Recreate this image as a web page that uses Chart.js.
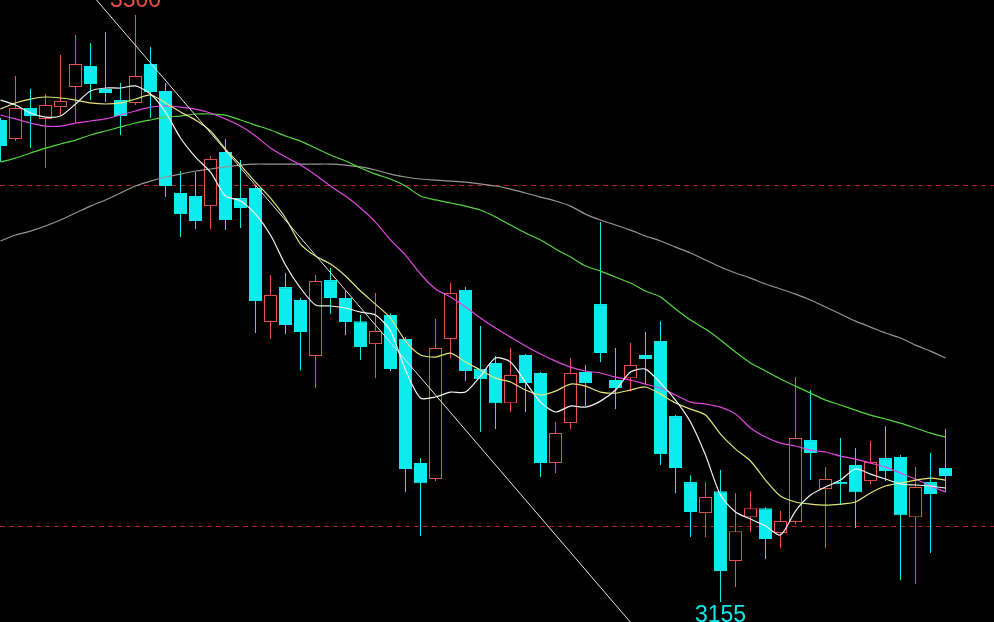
<!DOCTYPE html>
<html>
<head>
<meta charset="utf-8">
<script src="https://cdn.jsdelivr.net/npm/chart.js@4.4.1/dist/chart.umd.min.js"></script>
<style>
  html, body { margin: 0; padding: 0; background: #000; overflow: hidden; }
  #wrap { width: 994px; height: 622px; }
</style>
</head>
<body>
<div id="wrap"><canvas id="kline" width="994" height="622"></canvas></div>
<script>
// daily candles, oldest first
const opens = [3438.3, 3427.1, 3445.3, 3438.9, 3445.9, 3457.7, 3470.0, 3456.5, 3450.0, 3448.3,
  3471.2, 3455.3, 3395.4, 3393.6, 3387.7, 3419.5, 3392.4, 3398.3, 3319.6, 3340.1,
  3332.5, 3299.6, 3344.2, 3333.7, 3320.1, 3306.6, 3323.7, 3309.6, 3236.7, 3227.3,
  3309.6, 3338.4, 3291.9, 3295.5, 3271.9, 3300.2, 3289.6, 3236.7, 3260.2, 3290.2,
  3330.1, 3285.5, 3286.6, 3300.2, 3308.4, 3264.3, 3225.5, 3207.3, 3220.2, 3179.1,
  3204.9, 3210.2, 3195.6, 3202.0, 3250.2, 3221.4, 3225.5, 3235.5, 3226.1, 3239.6,
  3240.2, 3204.9, 3225.5, 3233.8];
const highs = [3439.5, 3464.1, 3456.5, 3453.6, 3476.5, 3488.2, 3483.5, 3490.0, 3460.0, 3500.0,
  3481.2, 3460.0, 3408.3, 3407.7, 3417.1, 3427.1, 3414.8, 3399.5, 3347.2, 3348.4,
  3333.7, 3347.2, 3351.3, 3337.8, 3323.7, 3336.6, 3324.8, 3310.7, 3239.6, 3321.3,
  3342.5, 3340.1, 3317.2, 3299.6, 3304.3, 3300.8, 3290.2, 3260.8, 3298.4, 3294.3,
  3378.3, 3304.3, 3307.2, 3313.7, 3320.1, 3264.9, 3229.6, 3225.5, 3232.6, 3219.0,
  3220.2, 3210.8, 3208.5, 3287.2, 3279.6, 3234.4, 3251.4, 3245.5, 3249.6, 3258.4,
  3241.4, 3234.4, 3242.6, 3256.7];
const lows = [3413.6, 3425.9, 3421.8, 3410.1, 3441.2, 3436.5, 3450.0, 3448.9, 3429.5, 3447.1,
  3439.5, 3393.0, 3369.5, 3374.2, 3374.2, 3373.6, 3374.8, 3313.1, 3309.6, 3312.5,
  3291.3, 3280.8, 3324.3, 3311.9, 3297.2, 3286.6, 3290.8, 3219.6, 3193.8, 3226.1,
  3298.4, 3284.9, 3254.9, 3256.7, 3266.7, 3266.7, 3228.5, 3230.8, 3256.7, 3270.2,
  3296.0, 3268.4, 3279.0, 3283.1, 3235.5, 3219.0, 3193.2, 3193.2, 3155.0, 3163.8,
  3196.1, 3180.3, 3186.7, 3200.8, 3226.7, 3186.7, 3212.0, 3198.5, 3224.3, 3226.1,
  3167.9, 3165.6, 3183.8, 3219.6];
const closes = [3423.0, 3445.3, 3440.6, 3447.1, 3449.4, 3471.2, 3459.4, 3454.1, 3440.6, 3464.1,
  3454.7, 3399.5, 3383.0, 3378.9, 3415.4, 3379.5, 3386.6, 3331.9, 3335.4, 3317.8,
  3313.7, 3343.7, 3333.7, 3319.6, 3304.9, 3314.3, 3291.9, 3233.2, 3224.9, 3304.3,
  3336.6, 3290.8, 3286.1, 3271.9, 3288.4, 3283.7, 3236.7, 3254.3, 3289.6, 3283.7,
  3301.3, 3280.8, 3294.3, 3297.8, 3242.0, 3233.8, 3207.9, 3216.7, 3173.2, 3196.7,
  3210.2, 3192.0, 3202.6, 3251.4, 3242.6, 3227.3, 3224.3, 3219.6, 3237.3, 3232.0,
  3206.1, 3222.6, 3218.5, 3229.1];

// moving averages as shown on the chart (white, yellow, magenta, green, grey)
const ma5 = [3450.0, 3447.1, 3442.4, 3440.0, 3440.6, 3447.7, 3455.3, 3457.1, 3457.1, 3458.3,
  3453.6, 3443.0, 3427.7, 3416.5, 3407.7, 3393.6, 3390.7, 3383.0, 3370.7, 3353.1,
  3339.5, 3329.6, 3329.0, 3327.8, 3325.4, 3323.7, 3314.3, 3291.4, 3274.9, 3275.5,
  3278.4, 3278.4, 3287.8, 3298.4, 3296.1, 3284.3, 3272.5, 3266.7, 3270.2, 3269.6,
  3273.1, 3279.6, 3290.2, 3291.9, 3283.7, 3273.7, 3260.8, 3241.4, 3217.9, 3207.9,
  3203.8, 3199.7, 3194.4, 3208.5, 3217.9, 3222.6, 3226.7, 3233.2, 3230.2, 3227.3,
  3224.4, 3223.8, 3223.2, 3222.0];
const ma10 = [3444.7, 3448.3, 3450.6, 3451.8, 3451.2, 3450.0, 3448.3, 3447.7, 3448.3, 3450.6,
  3453.0, 3448.3, 3443.0, 3438.3, 3431.8, 3421.2, 3411.8, 3401.8, 3392.4, 3380.7,
  3365.4, 3358.3, 3353.6, 3346.6, 3337.8, 3330.1, 3321.9, 3308.4, 3300.2, 3299.0,
  3301.3, 3296.1, 3291.4, 3286.6, 3284.3, 3279.6, 3276.7, 3279.0, 3283.1, 3281.9,
  3278.4, 3277.8, 3279.6, 3281.4, 3277.2, 3272.0, 3268.4, 3264.9, 3253.7, 3244.9,
  3237.9, 3226.7, 3217.3, 3213.8, 3212.6, 3212.0, 3212.6, 3213.8, 3219.1, 3223.2,
  3224.9, 3226.7, 3227.9, 3226.7];
const ma20 = [3441.2, 3438.9, 3436.5, 3434.7, 3434.7, 3436.5, 3437.7, 3438.9, 3441.2, 3443.6,
  3445.9, 3446.5, 3445.9, 3444.7, 3442.4, 3438.9, 3434.7, 3428.9, 3421.8, 3416.5,
  3411.8, 3406.0, 3399.5, 3393.6, 3386.6, 3378.3, 3367.8, 3358.9, 3347.8, 3339.0,
  3334.3, 3328.4, 3321.9, 3316.0, 3310.7, 3305.5, 3300.8, 3296.6, 3293.1, 3290.8,
  3289.6, 3287.2, 3285.5, 3283.1, 3280.8, 3276.7, 3272.5, 3271.4, 3269.6, 3265.5,
  3257.3, 3252.0, 3248.4, 3246.7, 3244.3, 3243.2, 3240.8, 3239.0, 3236.7, 3234.3,
  3230.8, 3227.3, 3223.2, 3219.7];
const ma60 = [3413.6, 3415.9, 3418.9, 3421.8, 3424.2, 3426.5, 3429.5, 3431.8, 3434.2, 3436.5,
  3438.3, 3440.0, 3440.6, 3441.8, 3441.8, 3441.2, 3438.3, 3435.3, 3432.4, 3428.9,
  3425.9, 3421.8, 3417.7, 3414.2, 3410.1, 3406.5, 3403.6, 3399.5, 3393.6, 3391.3,
  3389.5, 3387.7, 3385.4, 3381.3, 3376.6, 3371.9, 3367.8, 3362.5, 3357.8, 3352.5,
  3349.5, 3346.0, 3342.5, 3337.8, 3334.3, 3327.2, 3320.7, 3315.4, 3309.0, 3301.9,
  3295.5, 3290.8, 3286.1, 3281.9, 3277.8, 3273.7, 3270.8, 3267.8, 3264.9, 3262.6,
  3260.2, 3257.3, 3254.3, 3252.0];
const ma120 = [3367.2, 3370.7, 3373.0, 3376.0, 3379.5, 3383.6, 3387.7, 3391.3, 3395.4, 3399.5,
  3402.4, 3404.8, 3406.5, 3408.3, 3409.5, 3410.7, 3411.8, 3412.4, 3412.4, 3412.4,
  3412.4, 3412.4, 3412.4, 3411.8, 3410.7, 3408.9, 3406.5, 3404.8, 3403.6, 3403.0,
  3402.4, 3401.8, 3400.7, 3399.5, 3397.7, 3395.4, 3393.0, 3390.7, 3387.7, 3383.0,
  3379.5, 3376.6, 3373.6, 3370.1, 3367.2, 3363.6, 3360.1, 3356.0, 3351.9, 3348.4,
  3345.4, 3341.9, 3339.0, 3336.0, 3332.5, 3328.4, 3324.3, 3320.1, 3316.6, 3313.1,
  3310.2, 3306.0, 3302.5, 3298.4];

// dashed price levels and the hand drawn trend line (candle index, price)
const levels = [3200, 3400];
const trendFrom = [5, 3523.2];
const trendTo = [44, 3122.6];

const UP = '#e8524a';
const DOWN = '#0cecec';
const LEVEL = '#b02020';

const idx = opens.map((_, i) => i);
const isUp = i => closes[i] >= opens[i];

const maLine = (values, color) => ({
  type: 'line',
  data: values.map((v, i) => ({ x: i, y: v })),
  borderColor: color,
  borderWidth: 1.2,
  pointRadius: 0,
  tension: 0.25,
  order: 1
});

// dashed horizontal price levels, behind the candles
const levelLines = {
  id: 'levelLines',
  beforeDatasetsDraw(chart) {
    const { ctx, chartArea, scales: { y } } = chart;
    ctx.save();
    ctx.strokeStyle = LEVEL;
    ctx.lineWidth = 1;
    ctx.setLineDash([5, 4]);
    levels.forEach(v => {
      const py = Math.round(y.getPixelForValue(v)) + 0.5;
      ctx.beginPath();
      ctx.moveTo(chartArea.left, py);
      ctx.lineTo(chartArea.right, py);
      ctx.stroke();
    });
    ctx.restore();
  }
};

// 3500 / 3155 marks at the extremes
const extremaLabels = {
  id: 'extremaLabels',
  afterDatasetsDraw(chart) {
    const { ctx, scales: { x, y } } = chart;
    const hi = Math.max(...highs);
    const lo = Math.min(...lows);
    ctx.save();
    ctx.font = '23px "Liberation Sans", Arial, sans-serif';
    ctx.textAlign = 'center';
    ctx.fillStyle = UP;
    ctx.textBaseline = 'alphabetic';
    ctx.fillText(String(Math.round(hi)), x.getPixelForValue(highs.indexOf(hi)), y.getPixelForValue(hi) - 8);
    ctx.fillStyle = DOWN;
    ctx.textBaseline = 'top';
    ctx.fillText(String(Math.round(lo)), x.getPixelForValue(lows.indexOf(lo)), y.getPixelForValue(lo) + 2);
    ctx.restore();
  }
};

new Chart(document.getElementById('kline').getContext('2d'), {
  type: 'bar',
  data: {
    datasets: [
      {
        label: 'wick',
        data: idx.map(i => ({ x: i, y: [lows[i], highs[i]] })),
        backgroundColor: idx.map(i => isUp(i) ? UP : DOWN),
        borderWidth: 0,
        barThickness: 1,
        grouped: false,
        inflateAmount: 0,
        order: 3
      },
      {
        label: 'body',
        data: idx.map(i => ({ x: i, y: [opens[i], closes[i]] })),
        backgroundColor: idx.map(i => isUp(i) ? '#000' : DOWN),
        borderColor: idx.map(i => isUp(i) ? UP : DOWN),
        borderWidth: 1,
        borderSkipped: false,
        barThickness: 13,
        grouped: false,
        inflateAmount: 0,
        order: 2
      },
      maLine(ma5, '#f4f4f4'),
      maLine(ma10, '#e4e47a'),
      maLine(ma20, '#de48de'),
      maLine(ma60, '#56d640'),
      maLine(ma120, '#969696'),
      {
        type: 'line',
        data: [{ x: trendFrom[0], y: trendFrom[1] }, { x: trendTo[0], y: trendTo[1] }],
        borderColor: '#e8e8e8',
        borderWidth: 1,
        pointRadius: 0,
        order: 0
      }
    ]
  },
  options: {
    responsive: false,
    animation: false,
    devicePixelRatio: 1,
    layout: { padding: 0, autoPadding: false },
    plugins: { legend: { display: false }, tooltip: { enabled: false } },
    scales: {
      x: {
        type: 'linear',
        min: -0.5 / 15,
        max: 993.5 / 15,
        offset: false,
        display: false
      },
      y: {
        type: 'linear',
        min: 3143.3,
        max: 3508.8,
        beginAtZero: false,
        display: false
      }
    }
  },
  plugins: [levelLines, extremaLabels]
});
</script>
</body>
</html>
